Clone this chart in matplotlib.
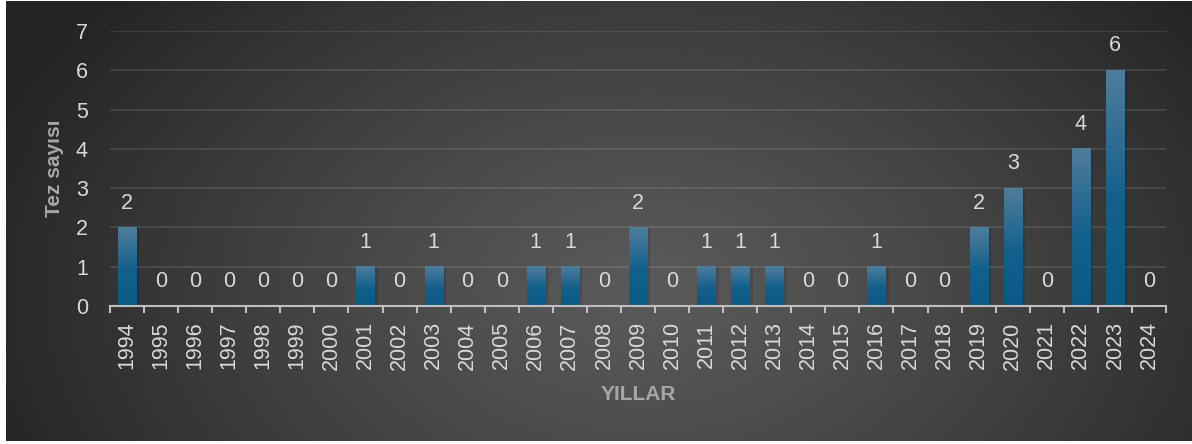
import numpy as np
import matplotlib
matplotlib.use("Agg")
import matplotlib.pyplot as plt
from matplotlib.colors import LinearSegmentedColormap

years = [str(y) for y in range(1994, 2025)]
counts = [2, 0, 0, 0, 0, 0, 0, 1, 0, 1, 0, 0, 1, 1, 0, 2, 0, 1, 1, 1, 0, 0, 1, 0, 0, 2, 3, 0, 4, 6, 0]
y_ticks = [0, 1, 2, 3, 4, 5, 6, 7]
x_title = "YILLAR"
y_title = "Tez sayısı"

plt.rcParams['font.family'] = ['Liberation Sans', 'DejaVu Sans']

W, H = 1192, 444
fig = plt.figure(figsize=(W / 100, H / 100), dpi=100, facecolor='white')

# background radial gradient
bg = fig.add_axes([6 / W, 3 / H, 1 - 6 / W, 1 - 4 / H])
bw, bh = W - 6, H - 4
yy, xx = np.mgrid[0:bh, 0:bw]
cx, cy, rx, ry = 640, 290, 700, 460
r = np.sqrt(((xx - cx) / rx) ** 2 + ((yy - cy) / ry) ** 2)
r = np.clip(r, 0, 1)
v = (90 - (90 - 36) * r ** 1.2) / 255.0
img = np.dstack([v, v, v])
bg.imshow(img, aspect='auto', extent=[0, bw, bh, 0], interpolation='bilinear')
bg.set_axis_off()

left, right = 110 / W, 1166 / W
bottom, top = 1 - 306 / H, 1 - 31 / H
ax = fig.add_axes([left, bottom, right - left, top - bottom])
ax.patch.set_alpha(0)

x = np.arange(len(years))
width = 0.53
cmap = LinearSegmentedColormap.from_list(
    'bar', [(0.0, '#0b5a85'), (0.45, '#12608c'), (1.0, '#4f7d9c')])
grad = np.linspace(0, 1, 256).reshape(-1, 1)

bars = ax.bar(x, counts, width=width, color='none', zorder=3)
for b, c in zip(bars, counts):
    if c <= 0:
        continue
    x0 = b.get_x()
    ax.bar(b.get_x() + width / 2 + 0.06, c, width=width + 0.08, color='black',
           alpha=0.12, zorder=2, linewidth=0)
    ax.imshow(grad, cmap=cmap, aspect='auto', origin='lower',
              extent=[x0, x0 + width, 0, c], zorder=3, interpolation='bilinear')

for xi, c in zip(x, counts):
    ax.annotate(str(c), (xi, c), xytext=(0, 17.5), textcoords='offset points',
                ha='center', va='center', color='#d9d9d9', fontsize=15.5)

ax.set_xlim(-0.5, len(years) - 0.5)
ax.set_ylim(0, 7)
ax.set_yticks(y_ticks)
ax.set_xticks(x)
ax.set_xticklabels(years, rotation=90, color='#d9d9d9', fontsize=15.5)
ax.set_xticks(np.arange(-0.5, len(years), 1), minor=True)
ax.tick_params(axis='x', which='major', length=0, pad=11)
ax.tick_params(axis='x', which='minor', length=5, width=1.5, color='#bfbfbf', direction='out')
ax.tick_params(axis='y', length=0, pad=16, labelcolor='#d9d9d9', labelsize=15.5)

ax.grid(axis='y', color='#ffffff', alpha=0.12, linewidth=1.2, zorder=0)
ax.set_axisbelow(True)
for s in ['top', 'right', 'left']:
    ax.spines[s].set_visible(False)
ax.spines['bottom'].set_color('#bfbfbf')
ax.spines['bottom'].set_linewidth(1.5)
ax.spines['bottom'].set_zorder(4)

fig.text(55 / W, 1 - 168 / H, y_title, rotation=90, ha='center', va='center',
         color='#a6a6a6', fontsize=15, fontweight='bold')
fig.text(638 / W, 1 - 394 / H, x_title, ha='center', va='center',
         color='#a6a6a6', fontsize=15, fontweight='bold')

fig.savefig('out.png', dpi=100, facecolor='white')
